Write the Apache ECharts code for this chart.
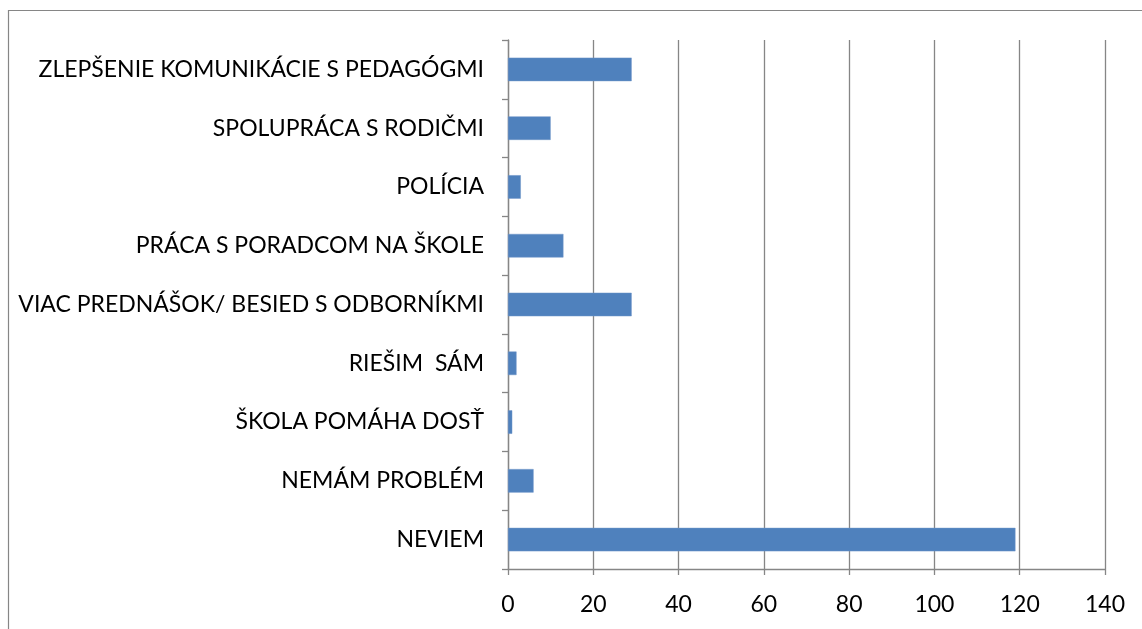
<!DOCTYPE html>
<html>
<head>
<meta charset="utf-8">
<script src="https://cdn.jsdelivr.net/npm/echarts@6/dist/echarts.min.js"></script>
<style>
html,body{margin:0;padding:0;background:#fff;}
#chart{width:1142px;height:629px;}
</style>
</head>
<body>
<div id="chart"></div>
<script>
const categories = [
  "NEVIEM",
  "NEMÁM PROBLÉM",
  "ŠKOLA POMÁHA DOSŤ",
  "RIEŠIM  SÁM",
  "VIAC PREDNÁŠOK/ BESIED S ODBORNÍKMI",
  "PRÁCA S PORADCOM NA ŠKOLE",
  "POLÍCIA",
  "SPOLUPRÁCA S RODIČMI",
  "ZLEPŠENIE KOMUNIKÁCIE S PEDAGÓGMI"
];
const values = [119, 6, 1, 2, 29, 13, 3, 10, 29];
const xMin = 0, xMax = 140, xStep = 20;

const chart = echarts.init(document.getElementById('chart'));
const gray = '#868686';
const font = 'Lato, "Open Sans", sans-serif';
chart.setOption({
  animation: false,
  backgroundColor: '#ffffff',
  graphic: [{
    type: 'rect',
    shape: { x: 8.5, y: 10.5, width: 2000, height: 2000 },
    style: { fill: 'none', stroke: gray, lineWidth: 1.2 },
    silent: true
  }],
  grid: { left: 508, top: 40, right: 37, bottom: 60, containLabel: false },
  xAxis: {
    type: 'value', min: xMin, max: xMax, interval: xStep,
    axisLine: { show: true, lineStyle: { color: gray, width: 1.3 } },
    axisTick: { show: true, length: 6, lineStyle: { color: gray, width: 1.3 } },
    splitLine: { show: true, lineStyle: { color: gray, width: 1.3 } },
    axisLabel: { color: '#000', fontFamily: font, fontSize: 23, margin: 24 }
  },
  yAxis: {
    type: 'category', data: categories,
    axisLine: { show: true, lineStyle: { color: gray, width: 1.3 } },
    axisTick: { show: true, length: 6, alignWithLabel: false, lineStyle: { color: gray, width: 1.3 } },
    splitLine: { show: false },
    axisLabel: { color: '#000', fontFamily: font, fontSize: 23, margin: 24 }
  },
  series: [{
    type: 'bar', data: values, barWidth: '40%',
    itemStyle: { color: '#4F81BD', borderColor: '#6E95C8', borderWidth: 0.5 }
  }]
});
</script>
</body>
</html>
